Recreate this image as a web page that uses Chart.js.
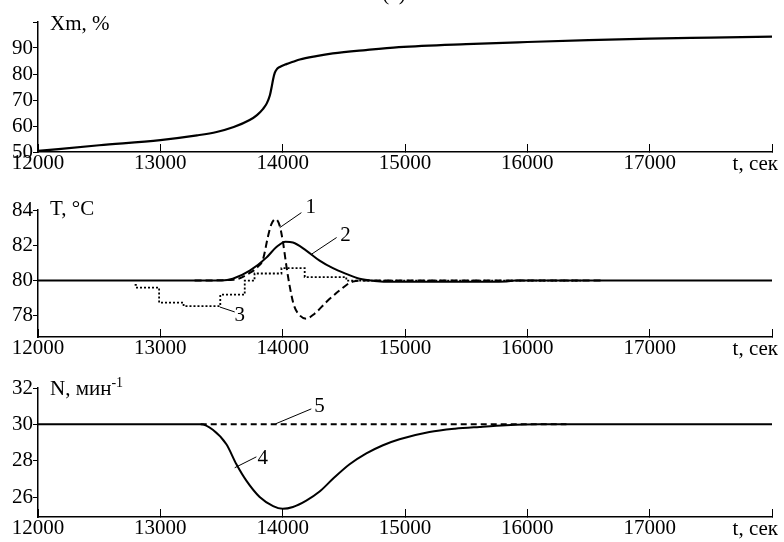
<!DOCTYPE html>
<html>
<head>
<meta charset="utf-8">
<script src="https://cdn.jsdelivr.net/npm/chart.js@4.4.1/dist/chart.umd.min.js"></script>
<style>
  html, body { margin: 0; padding: 0; background: #fff; }
  #wrap { position: relative; width: 784px; height: 542px; }
  #wrap canvas { position: absolute; left: 0; }
</style>
</head>
<body>
<div id="wrap">
  <canvas id="xmChart" style="top:0;width:784px;height:180px" width="784" height="180"></canvas>
  <canvas id="tempChart" style="top:180px;width:784px;height:180px" width="784" height="180"></canvas>
  <canvas id="speedChart" style="top:360px;width:784px;height:182px" width="784" height="182"></canvas>
</div>
<script>
// time axis, seconds
const timeTicks = [12000, 13000, 14000, 15000, 16000, 17000, 18000];

// Xm, % (conversion)
const xmTime = [12000, 12500, 13000, 13300, 13460, 13600, 13730, 13790, 13840, 13870, 13895, 13910, 13922, 13936, 13955, 13980, 14030, 14085, 14140, 14275, 14410, 14680, 14950, 15500, 16000, 16500, 17000, 17500, 18000];
const xmValues = [50.4, 52.6, 54.6, 56.4, 57.7, 59.6, 62.3, 64.2, 66.6, 68.7, 71.7, 75, 78, 80.5, 82, 82.8, 83.8, 84.7, 85.6, 86.9, 87.9, 89.2, 90.3, 91.5, 92.3, 93, 93.6, 94, 94.4];
const xmTicks = [50, 60, 70, 80, 90, 100];

// T, °C - curve 1 (dashed)
const t1Time = [13280, 13600, 13731, 13800, 13839, 13880, 13908, 13943, 13976, 14003, 14030, 14057, 14092, 14139, 14193, 14261, 14357, 14465, 14574, 14700, 16600];
const t1Values = [80, 80.05, 80.43, 80.8, 81.2, 82.5, 83.2, 83.48, 83.1, 82.16, 80.85, 79.7, 78.6, 78.03, 77.84, 78.12, 78.78, 79.44, 79.94, 80, 80];
// curve 2 (solid)
const t2Time = [12000, 13500, 13592, 13731, 13867, 13949, 14024, 14084, 14193, 14302, 14411, 14520, 14629, 14750, 14900, 15500, 15830, 15900, 18000];
const t2Values = [80, 80, 80.1, 80.56, 81.3, 81.9, 82.2, 82.16, 81.7, 81.13, 80.7, 80.38, 80.1, 79.98, 79.93, 79.93, 79.95, 80, 80];
// curve 3 (dotted, stepped)
const t3Time = [12790, 12800, 12990, 13190, 13490, 13690, 13770, 13990, 14180, 14520, 16450];
const t3Values = [79.75, 79.6, 78.75, 78.55, 79.2, 80, 80.4, 80.7, 80.2, 80, 80];
const tempTicks = [78, 80, 82, 84];

// N, мин-1 - curve 4 (solid) and 5 (dashed)
const n4Time = [12000, 13330, 13429, 13540, 13622, 13703, 13812, 13922, 14000, 14084, 14193, 14302, 14411, 14547, 14684, 14820, 14955, 15200, 15408, 15608, 15826, 16100, 18000];
const n4Values = [30, 30, 29.7, 28.9, 27.8, 26.9, 26.0, 25.5, 25.35, 25.45, 25.8, 26.3, 27.0, 27.8, 28.4, 28.85, 29.18, 29.58, 29.76, 29.86, 29.95, 30, 30];
const n5Time = [13330, 16320];
const n5Values = [30, 30];
const speedTicks = [26, 28, 30, 32];

const FAMILY = '"Liberation Serif", "Times New Roman", serif';
Chart.defaults.font.family = FAMILY;
Chart.defaults.font.size = 21;
Chart.defaults.color = '#000';

const FONT = '21px ' + FAMILY;

// captions, time label and numbered leaders
const notes = {
  id: 'notes',
  afterDraw(chart, args, opts) {
    const ctx = chart.ctx;
    const area = chart.chartArea;
    const xs = chart.scales.x, ys = chart.scales.y;
    ctx.save();
    ctx.fillStyle = '#000';
    ctx.strokeStyle = '#000';
    ctx.font = FONT;
    ctx.textAlign = 'left';
    ctx.textBaseline = 'alphabetic';
    const cx = area.left + 12, cy = area.top + opts.captionDy;
    ctx.fillText(opts.caption, cx, cy);
    if (opts.sup) {
      const w = ctx.measureText(opts.caption).width;
      ctx.font = '14px ' + FAMILY;
      ctx.fillText(opts.sup, cx + w, cy - 8);
      ctx.font = FONT;
    }
    if (opts.heading) {
      ctx.textAlign = 'center';
      ctx.fillText(opts.heading, 394, 0);
    }
    ctx.textAlign = 'right';
    ctx.fillText('t, сек', area.right + 6, area.bottom + 18);

    ctx.lineWidth = 1;
    ctx.textAlign = 'center';
    ctx.textBaseline = 'middle';
    (opts.callouts || []).forEach(c => {
      ctx.beginPath();
      ctx.moveTo(xs.getPixelForValue(c.from[0]), ys.getPixelForValue(c.from[1]));
      ctx.lineTo(xs.getPixelForValue(c.to[0]), ys.getPixelForValue(c.to[1]));
      ctx.stroke();
      ctx.fillText(c.text, xs.getPixelForValue(c.at[0]), ys.getPixelForValue(c.at[1]));
    });
    ctx.restore();
  }
};

function series(time, values, dash, extra) {
  return Object.assign({
    data: time.map((t, i) => ({ x: t, y: values[i] })),
    borderColor: '#000',
    borderWidth: 2,
    borderDash: dash,
    pointRadius: 0,
    fill: false,
    cubicInterpolationMode: 'monotone'
  }, extra || {});
}

function axes(yMin, yMax, yTicks, hideTop) {
  return {
    x: {
      type: 'linear',
      min: timeTicks[0],
      max: timeTicks[timeTicks.length - 1],
      afterFit: s => { s.height = 18; },
      afterBuildTicks: s => { s.ticks = timeTicks.map(v => ({ value: v })); },
      border: { color: '#000', width: 1.5 },
      grid: { drawOnChartArea: false, color: '#000', lineWidth: 1, tickLength: -8 },
      ticks: {
        padding: 7,
        maxRotation: 0,
        autoSkip: false,
        callback: v => v === 18000 ? '' : String(v)
      }
    },
    y: {
      min: yMin,
      max: yMax,
      afterFit: s => { s.width = 38; },
      afterBuildTicks: s => { s.ticks = yTicks.map(v => ({ value: v })); },
      border: { color: '#000', width: 1.5 },
      grid: { drawOnChartArea: false, color: '#000', lineWidth: 1, tickLength: 5 },
      ticks: {
        padding: 0,
        autoSkip: false,
        callback: v => (hideTop && v === yMax) ? '' : String(v)
      }
    }
  };
}

function baseOptions(pad, yMin, yMax, yTicks, hideTop, noteOpts) {
  return {
    responsive: false,
    animation: false,
    layout: { padding: pad },
    scales: axes(yMin, yMax, yTicks, hideTop),
    plugins: {
      legend: { display: false },
      tooltip: { enabled: false },
      notes: noteOpts
    }
  };
}

// Xm panel
new Chart(document.getElementById('xmChart').getContext('2d'), {
  type: 'line',
  data: {
    datasets: [series(xmTime, xmValues, [], { borderWidth: 2.2 })]
  },
  options: baseOptions({ left: 0, right: 12, top: 22, bottom: 10 }, 50, 100, xmTicks, true, {
    caption: 'Xm, %',
    captionDy: 8,
    heading: '(а)'
  }),
  plugins: [notes]
});

// Temperature panel
new Chart(document.getElementById('tempChart').getContext('2d'), {
  type: 'line',
  data: {
    datasets: [
      series(t2Time, t2Values, []),
      series(t1Time, t1Values, [7, 4]),
      series(t3Time, t3Values, [2, 2], { stepped: true, borderWidth: 1.8 })
    ]
  },
  options: baseOptions({ left: 0, right: 12, top: 30, bottom: 5 }, 76.8, 84, tempTicks, false, {
    caption: 'T, °C',
    captionDy: 5,
    callouts: [
      { from: [13976, 83.0], to: [14153, 83.85], at: [14229, 84.14], text: '1' },
      { from: [14237, 81.5], to: [14441, 82.44], at: [14514, 82.54], text: '2' },
      { from: [13486, 78.5], to: [13608, 78.22], at: [13649, 78.0], text: '3' }
    ]
  }),
  plugins: [notes]
});

// Speed panel
new Chart(document.getElementById('speedChart').getContext('2d'), {
  type: 'line',
  data: {
    datasets: [
      series(n4Time, n4Values, []),
      series(n5Time, n5Values, [6, 4])
    ]
  },
  options: baseOptions({ left: 0, right: 12, top: 28, bottom: 7 }, 24.9, 32, speedTicks, false, {
    caption: 'N, мин',
    sup: '-1',
    captionDy: 7,
    callouts: [
      { from: [13608, 27.61], to: [13785, 28.21], at: [13837, 28.13], text: '4' },
      { from: [13943, 30.03], to: [14234, 30.85], at: [14302, 30.96], text: '5' }
    ]
  }),
  plugins: [notes]
});
</script>
</body>
</html>
